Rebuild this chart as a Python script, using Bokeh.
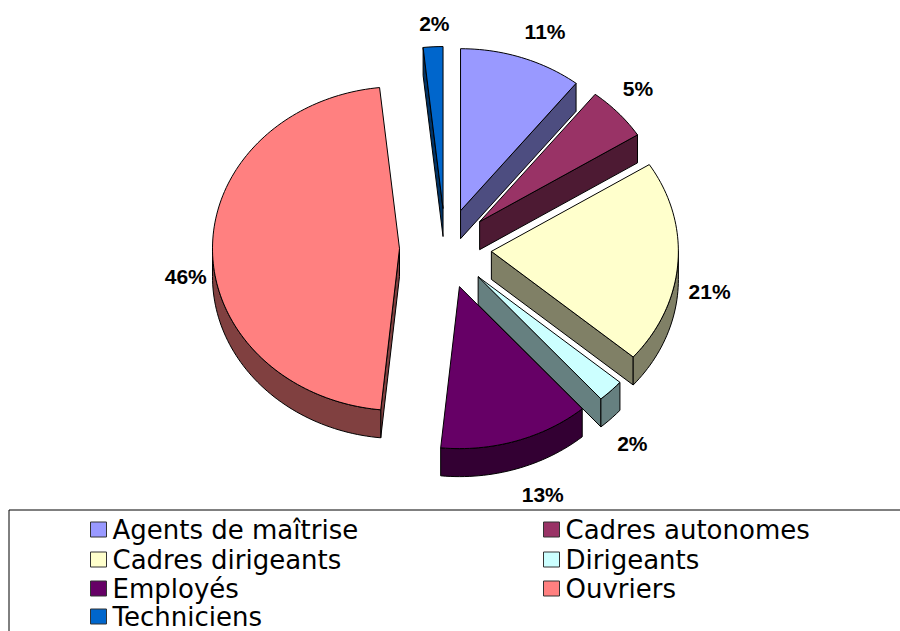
import math
from bokeh.plotting import figure
from bokeh.models import Range1d
from bokeh.embed import file_html
from bokeh.resources import INLINE
from bokeh.core.properties import value

# Data
categories = ["Agents de maîtrise", "Cadres autonomes", "Cadres dirigeants", "Dirigeants",
              "Employés", "Ouvriers", "Techniciens"]
shares = [10.6, 5.4, 20.3, 2.3, 13.0, 46.7, 1.7]
labels = ["11%", "5%", "21%", "2%", "13%", "46%", "2%"]
top_colors = ["#9999FF", "#993366", "#FFFFCC", "#CCFFFF", "#660066", "#FF8080", "#0066CC"]
wall_colors = ["#4D4D80", "#4D1A33", "#808066", "#668080", "#330033", "#804040", "#003366"]

# Layout of the tilted pie (page pixels)
CX, CY, RX, RY, EX, EY, DEPTH = 445, 248, 187, 162, 46, 40, 28
LABEL_R = 1.17
LABEL_NUDGE = [(13, 0), (-4, -6), (0, 26), (-1, 33), (17, 27), (5, 27), (3, 4)]
DRAW_ORDER = [6, 0, 1, 2, 5, 3, 4]

W, H = 900, 631
p = figure(width=W, height=H, output_backend="svg", toolbar_location=None,
           x_range=Range1d(0, W), y_range=Range1d(H, 0),
           min_border=0, outline_line_color=None)
p.axis.visible = False
p.grid.visible = False

total = sum(shares)
edges = [0.0]
for s in shares:
    edges.append(edges[-1] + s / total * 2 * math.pi)


def rim(ax, ay, t):
    return ax + RX * math.sin(t), ay - RY * math.cos(t)


xs, ys, fills = [], [], []


def add(poly, color):
    xs.append([q[0] for q in poly])
    ys.append([q[1] for q in poly])
    fills.append(color)


for i in DRAW_ORDER:
    a, b = edges[i], edges[i + 1]
    mid = (a + b) / 2
    ax, ay = CX + EX * math.sin(mid), CY - EY * math.cos(mid)
    # radial walls
    for t, visible in ((a, math.sin(a) < 0), (b, math.sin(b) > 0)):
        if visible:
            rx, ry = rim(ax, ay, t)
            add([(ax, ay), (rx, ry), (rx, ry + DEPTH), (ax, ay + DEPTH)], wall_colors[i])
    # outer wall, front half of the rim only
    lo, hi = max(a, math.pi / 2), min(b, 3 * math.pi / 2)
    if hi > lo:
        n = max(2, int((hi - lo) * 40))
        ts = [lo + (hi - lo) * k / n for k in range(n + 1)]
        front = [rim(ax, ay, t) for t in ts]
        add(front + [(q[0], q[1] + DEPTH) for q in reversed(front)], wall_colors[i])
    # top face
    n = max(2, int((b - a) * 40))
    add([(ax, ay)] + [rim(ax, ay, a + (b - a) * k / n) for k in range(n + 1)], top_colors[i])

p.patches(xs, ys, fill_color=fills, line_color="#000000", line_width=1, line_join="round")

# Percent labels
lx, ly = [], []
for i in range(len(shares)):
    mid = (edges[i] + edges[i + 1]) / 2
    ax, ay = CX + EX * math.sin(mid), CY - EY * math.cos(mid)
    lx.append(ax + LABEL_R * RX * math.sin(mid) + LABEL_NUDGE[i][0])
    ly.append(ay - LABEL_R * RY * math.cos(mid) + LABEL_NUDGE[i][1])
p.text(lx, ly, text=labels, text_font=value("Liberation Sans"), text_font_style="bold",
       text_font_size="21px", text_align="center", text_baseline="middle", text_color="#000000")

# Legend box: top and left edges, open towards the page edge
p.line([8.5, W], [509.5, 509.5], line_color="#000000", line_width=1)
p.line([8.5, 8.5], [509.5, H], line_color="#000000", line_width=1)

COLS = (90, 543)
ROWS = (529, 559, 588, 616)
SW = 16
for i, name in enumerate(categories):
    x0, yc = COLS[i % 2], ROWS[i // 2]
    p.quad(left=[x0], right=[x0 + SW], top=[yc - 7.5], bottom=[yc + 7.5],
           fill_color=top_colors[i], line_color="#333333", line_width=1)
    p.text([x0 + SW + 6], [yc], text=[name], text_font=value("DejaVu Sans"),
           text_font_size="26px", text_align="left", text_baseline="middle", text_color="#000000")

open("out.html", "w").write(file_html(p, INLINE))
